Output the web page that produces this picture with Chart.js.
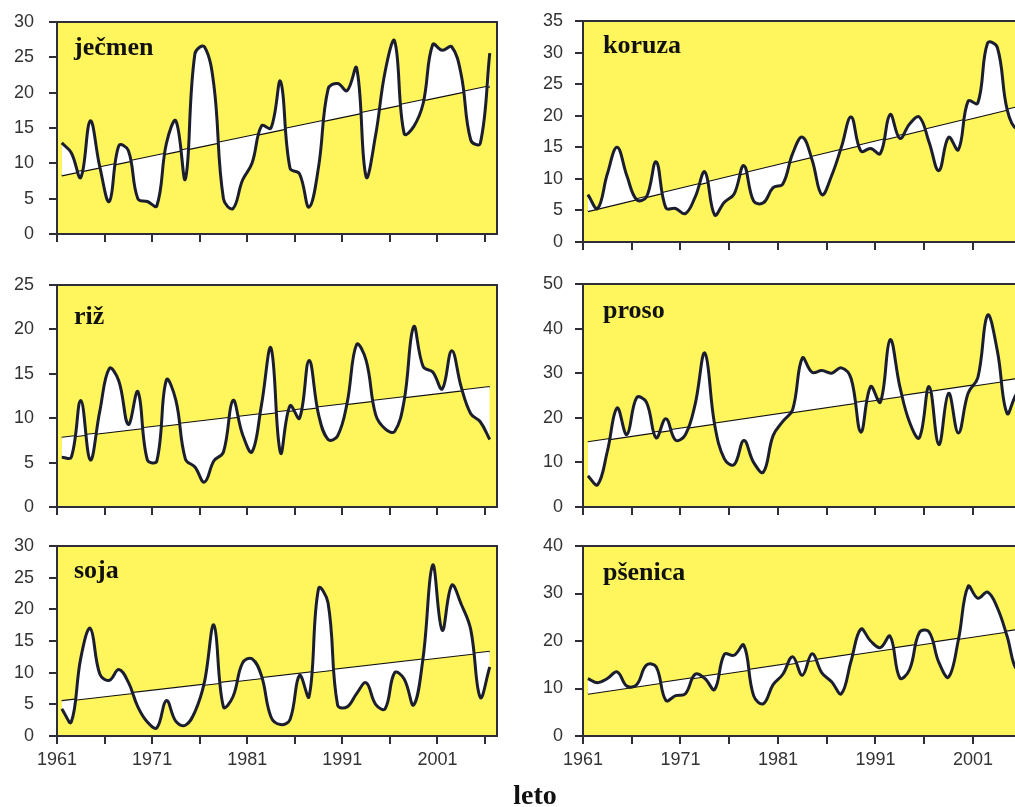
<!DOCTYPE html>
<html>
<head>
<meta charset="utf-8">
<title>Pridelki 1961-2006</title>
<script src="https://cdn.jsdelivr.net/npm/chart.js@4.4.0/dist/chart.umd.min.js"></script>
<style>
  html, body { margin: 0; padding: 0; background: #fff; width: 1015px; height: 807px; overflow: hidden; }
  body { position: relative; }
  .panel { position: absolute; }
  #leto {
    position: absolute; left: 535px; top: 781px; transform: translateX(-50%);
    font: bold 28px "Liberation Serif", "Times New Roman", serif; line-height: 28px; color: #111;
  }
</style>
</head>
<body>
<div class="panel" style="left:0px;top:0px;width:505px;height:250px"><canvas id="c1" width="505" height="250"></canvas></div>
<div class="panel" style="left:505px;top:0px;width:530px;height:260px"><canvas id="c2" width="530" height="260"></canvas></div>
<div class="panel" style="left:0px;top:265px;width:505px;height:260px"><canvas id="c3" width="505" height="260"></canvas></div>
<div class="panel" style="left:505px;top:265px;width:530px;height:260px"><canvas id="c4" width="530" height="260"></canvas></div>
<div class="panel" style="left:0px;top:525px;width:505px;height:255px"><canvas id="c5" width="505" height="255"></canvas></div>
<div class="panel" style="left:505px;top:525px;width:530px;height:255px"><canvas id="c6" width="530" height="255"></canvas></div>
<div id="leto">leto</div>

<script>
// years on the x axis (values are plotted at mid-year)
const years = [1961, 1962, 1963, 1964, 1965, 1966, 1967, 1968, 1969, 1970,
  1971, 1972, 1973, 1974, 1975, 1976, 1977, 1978, 1979, 1980,
  1981, 1982, 1983, 1984, 1985, 1986, 1987, 1988, 1989, 1990,
  1991, 1992, 1993, 1994, 1995, 1996, 1997, 1998, 1999, 2000,
  2001, 2002, 2003, 2004, 2005, 2006];
const yearTicks = [1961, 1966, 1971, 1976, 1981, 1986, 1991, 1996, 2001, 2006];
const labelYears = [1961, 1971, 1981, 1991, 2001];
const trendYears = [1961, 2006];

// series values
const jecmen = [12.9, 11.5, 8.0, 16.0, 9.5, 4.6, 12.5, 11.8, 5.0, 4.6,
  4.0, 12.8, 16.0, 7.8, 25.5, 26.5, 21.0, 5.0, 3.6, 7.6,
  10.0, 15.3, 15.0, 21.6, 9.3, 8.5, 3.8, 9.5, 20.5, 21.3,
  20.3, 23.5, 8.1, 14.0, 23.0, 27.3, 14.2, 15.2, 18.5, 26.8,
  26.0, 26.5, 22.5, 13.3, 12.8, 25.6];
const koruza = [7.5, 5.3, 10.8, 15.0, 10.5, 6.7, 7.1, 12.7, 5.4, 5.3,
  4.5, 7.1, 11.1, 4.3, 6.3, 7.6, 12.1, 6.5, 6.2, 8.6,
  9.2, 14.0, 16.6, 13.0, 7.5, 10.5, 15.0, 19.8, 14.4, 14.8,
  14.0, 20.2, 16.4, 18.7, 19.8, 15.8, 11.3, 16.6, 14.6, 22.3,
  22.0, 31.5, 30.8, 21.0, 17.9, 19.5];
const riz = [5.6, 5.6, 12.0, 5.3, 10.8, 15.6, 14.2, 9.3, 13.0, 5.3,
  5.2, 14.3, 12.0, 5.4, 4.5, 2.8, 5.2, 6.2, 12.0, 8.2,
  6.2, 11.5, 17.9, 6.1, 11.4, 10.0, 16.5, 10.4, 7.6, 8.0,
  11.7, 18.3, 16.5, 10.4, 8.8, 8.5, 12.0, 20.3, 15.8, 15.2,
  13.3, 17.6, 13.5, 10.5, 9.6, 7.6];
const proso = [7.0, 5.0, 12.5, 22.2, 16.2, 24.5, 23.5, 15.5, 19.8, 15.0,
  16.2, 23.0, 34.5, 18.5, 10.8, 9.5, 14.9, 10.0, 7.8, 16.0,
  19.2, 21.8, 33.4, 30.2, 30.6, 30.0, 31.2, 28.8, 16.8, 27.0,
  23.5, 37.5, 27.0, 19.0, 15.5, 27.0, 14.0, 25.5, 16.6, 25.5,
  29.0, 43.0, 35.0, 21.0, 25.5, 27.0];
const soja = [4.3, 2.2, 12.3, 17.0, 9.8, 8.8, 10.5, 8.5, 4.6, 2.2,
  1.3, 5.6, 2.3, 1.7, 3.8, 8.5, 17.5, 4.6, 6.2, 11.5,
  12.2, 9.5, 3.0, 1.8, 2.6, 9.6, 6.2, 23.3, 21.0, 4.9,
  4.6, 6.7, 8.4, 5.0, 4.3, 10.0, 9.0, 4.9, 12.5, 27.0,
  16.7, 23.8, 20.8, 16.8, 6.1, 10.9];
const psenica = [12.1, 11.2, 12.1, 13.5, 10.5, 10.8, 14.9, 14.6, 7.5, 8.5,
  8.9, 13.0, 12.1, 9.8, 17.2, 17.0, 19.1, 8.5, 6.8, 10.8,
  13.0, 16.7, 12.8, 17.3, 13.3, 11.4, 8.9, 15.8, 22.5, 20.0,
  18.6, 21.0, 12.2, 14.0, 21.8, 21.9, 15.5, 12.4, 20.2, 31.5,
  29.0, 30.3, 27.0, 21.0, 14.0, 17.0];

// linear trend, start and end value
const jecmenTrend = [8.3, 20.9];
const koruzaTrend = [4.9, 21.7];
const rizTrend = [7.8, 13.5];
const prosoTrend = [14.5, 29.0];
const sojaTrend = [5.5, 13.3];
const psenicaTrend = [8.9, 22.6];

const BG = "#fff55c";
const INK = "#1b1e2e";
const AXIS = "#2e2e38";
const tickFont = { family: "'Liberation Sans', Arial, sans-serif", size: 18 };

// yellow plot area, frame and the crop name
const panelBox = {
  id: "panelBox",
  beforeDraw(chart) {
    const a = chart.chartArea;
    const ctx = chart.ctx;
    ctx.save();
    ctx.fillStyle = BG;
    ctx.fillRect(a.left, a.top, a.right - a.left, a.bottom - a.top);
    ctx.restore();
  },
  afterDatasetsDraw(chart, args, opts) {
    const a = chart.chartArea;
    const ctx = chart.ctx;
    ctx.save();
    ctx.strokeStyle = AXIS;
    ctx.lineWidth = 2;
    ctx.strokeRect(a.left, a.top, a.right - a.left, a.bottom - a.top);
    ctx.fillStyle = "#111";
    ctx.font = 'bold 26px "Liberation Serif", "Times New Roman", serif';
    ctx.textBaseline = "alphabetic";
    ctx.fillText(opts.label, a.left + opts.dx, a.top + opts.dy);
    ctx.restore();
  },
};

function toPoints(xs, ys) {
  return ys.map((v, i) => ({ x: xs[i] + 0.5, y: v }));
}

function makePanel(p) {
  new Chart(document.getElementById(p.id), {
    type: "line",
    data: {
      datasets: [
        {
          data: toPoints(years, p.values),
          borderColor: INK,
          borderWidth: 3,
          tension: 0.4,
          pointRadius: 0,
          fill: 1,
          backgroundColor: "#ffffff",
        },
        {
          data: toPoints(trendYears, p.trend),
          borderColor: "#111",
          borderWidth: 2.2,
          pointRadius: 0,
          fill: false,
        },
      ],
    },
    options: {
      responsive: false,
      animation: false,
      devicePixelRatio: 1,
      layout: { padding: { left: 0, top: p.padTop, right: p.padRight, bottom: 0 } },
      plugins: {
        legend: { display: false },
        tooltip: { enabled: false },
        panelBox: { label: p.label, dx: p.dx, dy: p.dy },
      },
      scales: {
        x: {
          type: "linear",
          min: 1961,
          max: 2007.26,
          afterBuildTicks: (s) => { s.ticks = yearTicks.map((v) => ({ value: v })); },
          afterFit: (s) => { s.height = p.xh; },
          ticks: {
            autoSkip: false,
            maxRotation: 0,
            padding: 5,
            font: tickFont,
            color: "#333",
            callback: (v) => (p.showX && labelYears.includes(v) ? String(v) : ""),
          },
          grid: { drawOnChartArea: false, tickLength: 8, color: AXIS, lineWidth: 2 },
          border: { color: AXIS, width: 2 },
        },
        y: {
          min: 0,
          max: p.max,
          // fixed axis width; the tick padding must not eat into the plot height
          afterFit: (s) => { s.width = p.yw; s.paddingTop = 8; s.paddingBottom = 8; },
          ticks: { stepSize: p.step, padding: p.ypad, font: tickFont, color: "#333" },
          grid: { drawOnChartArea: false, tickLength: 8, color: AXIS, lineWidth: 2 },
          border: { color: AXIS, width: 2 },
        },
      },
    },
    plugins: [panelBox],
  });
}

makePanel({ id: "c1", values: jecmen, trend: jecmenTrend, label: "ječmen", max: 30, step: 5,
  yw: 57, padTop: 22, padRight: 8, xh: 16, showX: false, ypad: 15, dx: 17, dy: 33 });
makePanel({ id: "c2", values: koruza, trend: koruzaTrend, label: "koruza", max: 35, step: 5,
  yw: 78, padTop: 21, padRight: 1, xh: 18, showX: false, ypad: 12, dx: 20, dy: 32 });
makePanel({ id: "c3", values: riz, trend: rizTrend, label: "riž", max: 25, step: 5,
  yw: 57, padTop: 20, padRight: 8, xh: 18, showX: false, ypad: 15, dx: 17, dy: 39 });
makePanel({ id: "c4", values: proso, trend: prosoTrend, label: "proso", max: 50, step: 10,
  yw: 78, padTop: 19, padRight: 1, xh: 18, showX: false, ypad: 12, dx: 20, dy: 34 });
makePanel({ id: "c5", values: soja, trend: sojaTrend, label: "soja", max: 30, step: 5,
  yw: 57, padTop: 21, padRight: 8, xh: 44, showX: true, ypad: 15, dx: 17, dy: 32 });
makePanel({ id: "c6", values: psenica, trend: psenicaTrend, label: "pšenica", max: 40, step: 10,
  yw: 78, padTop: 21, padRight: 1, xh: 44, showX: true, ypad: 12, dx: 20, dy: 34 });
</script>
</body>
</html>
